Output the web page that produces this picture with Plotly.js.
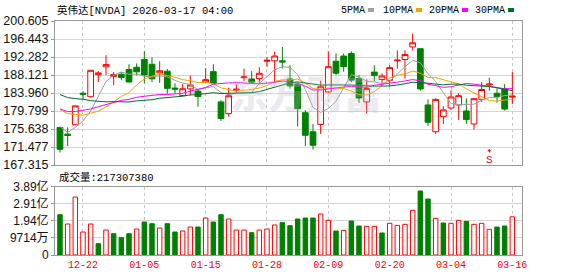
<!DOCTYPE html>
<html><head><meta charset="utf-8">
<script src="https://cdn.plot.ly/plotly-3.0.1.min.js"></script>
<style>html,body{margin:0;padding:0;background:#fff}#chart{width:578px;height:276px}</style>
</head><body><div id="chart"></div>
<script>
// ---------------- data ----------------
const dates = ['12-17','12-18','12-19','12-22','12-23','12-24','12-26','12-29','12-30','12-31',
  '01-02','01-05','01-06','01-07','01-08','01-09','01-12','01-13','01-14','01-15',
  '01-16','01-20','01-21','01-22','01-23','01-26','01-27','01-28','01-29','01-30',
  '02-02','02-03','02-04','02-05','02-06','02-09','02-10','02-11','02-12','02-13',
  '02-17','02-18','02-19','02-20','02-23','02-24','02-25','02-26','02-27','03-02',
  '03-03','03-04','03-05','03-06','03-09','03-10','03-11','03-12','03-13','03-16'];
const openP = [176.0,174.45,176.6,183.9,183.1,188.2,190.0,187.8,188.3,189.4,
  189.9,191.7,190.6,188.6,189.0,185.1,183.4,184.9,184.4,186.5,
  188.9,181.9,179.2,184.6,187.5,187.2,187.3,191.3,191.4,191.4,
  187.2,186.0,179.4,175.0,176.7,184.2,191.3,192.5,193.1,187.3,
  181.9,188.8,187.1,186.9,191.4,191.7,194.6,194.2,181.2,175.0,
  178.5,180.5,181.2,179.8,176.8,182.5,185.8,183.9,184.9,183.0];
const highP = [176.1,176.0,181.0,184.4,189.3,189.0,192.69,188.8,188.8,190.6,
  190.8,193.6,192.2,191.3,189.5,186.2,186.0,188.0,184.8,189.7,
  190.6,182.3,185.2,186.0,189.6,189.0,189.9,192.3,193.5,194.6,
  190.4,186.5,180.0,176.8,186.8,193.6,193.1,193.1,193.6,188.1,
  187.1,190.4,188.5,190.4,193.8,193.8,197.7,194.3,182.5,182.7,
  180.9,184.6,183.9,182.7,182.7,186.5,187.5,185.0,186.0,188.8];
const lowP = [170.2,171.7,176.5,182.5,182.9,186.5,188.1,185.8,186.9,186.4,
  188.0,186.2,186.5,186.3,183.8,183.8,183.2,183.4,180.8,186.4,
  186.0,177.5,178.5,184.0,186.7,186.3,186.3,190.0,186.3,189.6,
  185.0,176.2,171.7,170.9,174.5,184.0,188.1,188.9,186.5,181.7,
  179.2,186.7,185.8,185.5,189.6,187.3,193.8,184.5,176.4,174.5,
  176.8,180.0,177.7,176.8,175.5,181.9,184.5,181.7,179.9,181.4];
const closeP = [170.94,174.14,180.99,183.69,189.21,188.61,190.53,188.22,187.54,186.50,
  188.85,188.12,187.24,189.11,185.04,184.86,184.94,185.81,183.14,187.05,
  186.23,178.07,183.32,184.84,187.67,186.47,188.52,191.52,192.51,191.13,
  185.61,180.34,174.19,171.88,185.41,190.04,188.54,190.05,186.94,182.81,
  184.97,187.98,187.90,189.82,191.55,192.85,195.56,184.89,177.19,182.48,
  180.05,183.04,183.34,177.82,182.65,184.77,186.03,183.14,180.25,183.22];
// closes of the 29 sessions before the first visible bar (feed the moving averages)
const priorClose = [195.21,188.08,188.15,199.05,193.16,193.80,186.86,190.17,186.60,181.36,
  186.52,180.64,178.88,182.55,177.82,180.26,177.00,179.92,181.46,179.59,
  183.38,182.41,185.55,184.97,183.78,180.93,175.02,176.29,177.72];
// volume in 亿 shares
const volume = [2.294,1.763,3.298,1.308,1.763,0.645,1.422,1.213,0.986,1.213,
  1.479,1.877,1.782,1.535,1.782,1.308,1.365,1.592,1.592,2.104,
  1.877,2.294,2.047,1.422,1.422,1.270,1.422,1.479,1.706,1.839,
  1.668,2.047,2.104,2.104,2.331,1.971,1.365,1.403,1.934,1.649,
  1.630,1.630,1.251,1.801,1.687,1.744,2.540,3.640,3.185,2.085,
  1.820,1.801,1.971,1.915,1.744,1.801,1.460,1.592,1.649,2.1730738];
const tickDates = ['12-22','01-05','01-15','01-28','02-09','02-20','03-04','03-16'];
const priceTickText = ['167.315','171.477','175.638','179.799','183.960','188.121','192.282','196.443','200.605'];
const volTickVals = [0, 0.9714, 1.9428, 2.9142, 3.8856];
const volTickText = ['0','9714万','1.94亿','2.91亿','3.89亿'];
const maPeriods = [5, 10, 20, 30];
const maNames = ['5PMA','10PMA','20PMA','30PMA'];
const titleText = '英伟达[NVDA] 2026-03-17 04:00';
const volTitle = '成交量:217307380';
const markIndex = 56;

// ---------------- styles ----------------
const W = 578, H = 276;
const PX = x => x / W, PY = y => 1 - y / H;
const RED = '#ff0000', GREEN = '#008000';
const maColors = ['#a0a0a0', '#f5a500', '#ff00ff', '#006b2e'];
const FRAME = '#999999', GRIDH = '#d6d6d6', GRIDV = '#c8c8c8';
const MONO = "'Liberation Mono','Noto Sans CJK SC',monospace";
const SANS = "'Liberation Sans','Noto Sans CJK SC',Arial,sans-serif";

const idx = dates.map((d, i) => i);
const allClose = priorClose.concat(closeP);
const off = priorClose.length;
function ma(n) {
  return closeP.map((c, i) => {
    let s = 0;
    for (let k = off + i - n + 1; k <= off + i; k++) s += allClose[k];
    return s / n;
  });
}
const prevClose = closeP.map((c, i) => allClose[off + i - 1]);
const volUp = closeP.map((c, i) => c >= prevClose[i]);

const traces = [];
traces.push({
  type: 'candlestick', x: idx, open: openP, high: highP, low: lowP, close: closeP,
  xaxis: 'x', yaxis: 'y', whiskerwidth: 0, hoverinfo: 'skip',
  increasing: { line: { color: RED, width: 1 }, fillcolor: '#ffffff' },
  decreasing: { line: { color: GREEN, width: 1 }, fillcolor: GREEN }
});
maPeriods.forEach((n, k) => {
  traces.push({ type: 'scatter', mode: 'lines', x: idx, y: ma(n), xaxis: 'x', yaxis: 'y',
    line: { color: maColors[k], width: 1 }, hoverinfo: 'skip' });
});
traces.push({
  type: 'bar', x: idx, y: volume, xaxis: 'x2', yaxis: 'y2', width: 0.58, hoverinfo: 'skip',
  marker: { color: volUp.map(u => u ? '#ffffff' : GREEN),
            line: { color: volUp.map(u => u ? RED : GREEN), width: 1 } }
});

const xDomain = [PX(55), PX(522)];
const xRange = [-0.65, 60.26];
const tickIdx = tickDates.map(d => dates.indexOf(d));
const axX = {
  domain: xDomain, range: xRange, tickvals: tickIdx, showgrid: true, gridcolor: GRIDV,
  griddash: '3px,3px', gridwidth: 1, zeroline: false, showline: true, mirror: true,
  linecolor: FRAME, linewidth: 1, ticks: '', fixedrange: true, rangeslider: { visible: false }
};

const annotations = [
  { text: titleText, x: PX(55), y: PY(10), xanchor: 'left', yanchor: 'middle',
    font: { family: MONO, size: 10.5, color: '#000' } },
  { text: volTitle, x: PX(57), y: PY(177), xanchor: 'left', yanchor: 'middle',
    font: { family: MONO, size: 10.5, color: '#000' } },
  { text: '东方财富', x: PX(306), y: PY(92), xanchor: 'center', yanchor: 'middle',
    font: { family: "'Noto Sans CJK SC'", size: 38, color: 'rgba(185,185,200,0.28)', weight: 900 } },
  { text: 'S', x: markIndex, y: 171.0, xref: 'x', yref: 'y', showarrow: true,
    ax: 0, ay: 11, arrowhead: 1, arrowsize: 0.7, arrowwidth: 1, arrowcolor: RED, standoff: 0,
    font: { family: MONO, size: 11, color: RED } }
];
const legX = [339, 381, 427, 473];
const sqX = [368, 416, 462, 508];
const shapes = [];
maNames.forEach((nm, k) => {
  annotations.push({ text: nm, x: PX(legX[k]), y: PY(10), xanchor: 'left', yanchor: 'middle',
    font: { family: MONO, size: 10, color: '#000' } });
  shapes.push({ type: 'rect', xref: 'paper', yref: 'paper', x0: PX(sqX[k]), x1: PX(sqX[k] + 6),
    y0: PY(12), y1: PY(8), fillcolor: maColors[k], line: { width: 0 } });
});
annotations.forEach(a => { if (!a.xref) { a.xref = 'paper'; a.yref = 'paper'; a.showarrow = false; } });

const layout = {
  width: W, height: H, margin: { l: 0, r: 0, t: 0, b: 0 },
  paper_bgcolor: '#ffffff', plot_bgcolor: '#ffffff', showlegend: false,
  boxgap: 0.25, boxgroupgap: 0,
  xaxis: Object.assign({}, axX, { anchor: 'y', showticklabels: false }),
  yaxis: {
    domain: [PY(165), PY(21)], range: [167.315, 200.605],
    tickvals: priceTickText.map(Number), ticktext: priceTickText,
    showgrid: true, gridcolor: GRIDH, zeroline: false, showline: true, mirror: true,
    linecolor: FRAME, ticks: 'outside', ticklen: 3, tickcolor: FRAME, fixedrange: true,
    tickfont: { family: SANS, size: 12.5, color: '#111' }
  },
  xaxis2: Object.assign({}, axX, { anchor: 'y2', showticklabels: true,
    ticktext: tickDates, tickfont: { family: MONO, size: 10, color: RED } }),
  yaxis2: {
    domain: [PY(255), PY(186.7)], range: [0, 3.8856],
    tickvals: volTickVals, ticktext: volTickText,
    showgrid: true, gridcolor: GRIDH, zeroline: false, showline: true, mirror: true,
    linecolor: FRAME, ticks: 'outside', ticklen: 3, tickcolor: FRAME, fixedrange: true,
    tickfont: { family: SANS, size: 12, color: '#111' }
  },
  annotations: annotations, shapes: shapes
};
Plotly.newPlot('chart', traces, layout, { staticPlot: true, displayModeBar: false });
</script></body></html>
